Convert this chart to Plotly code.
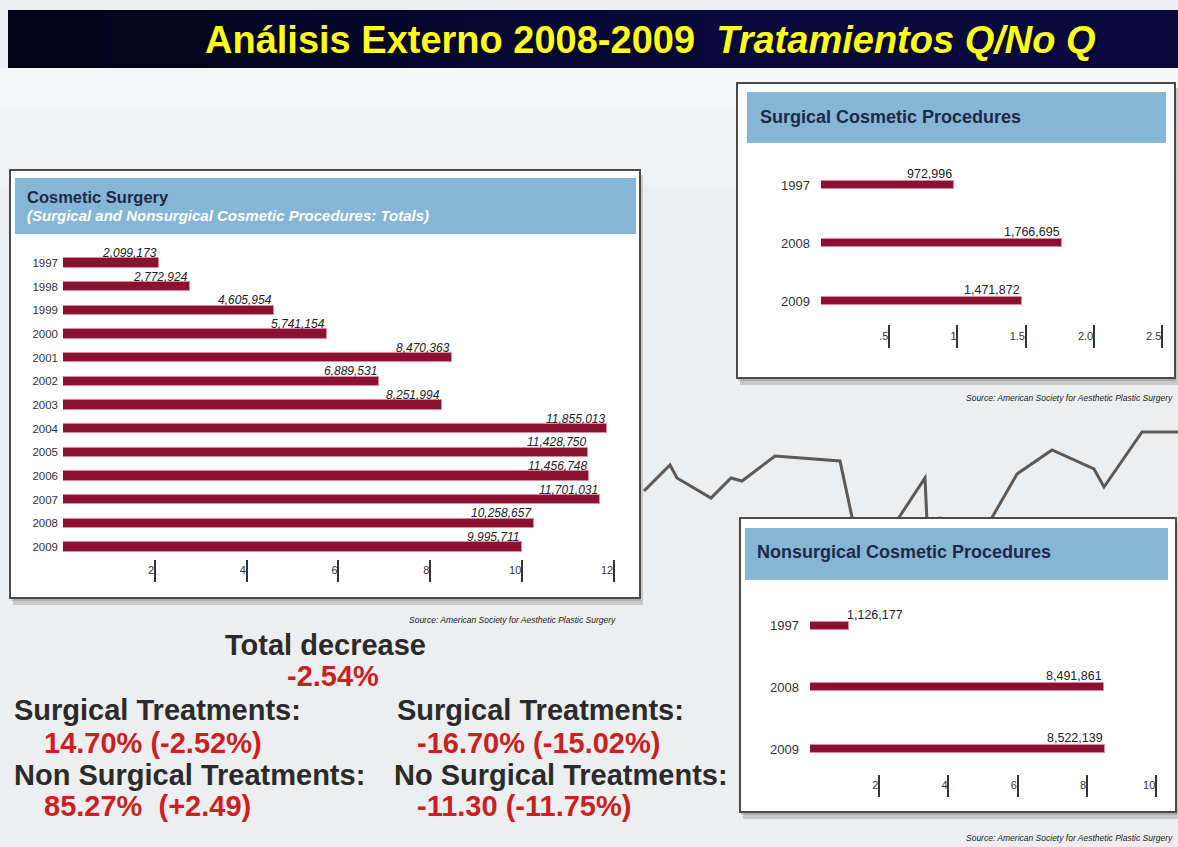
import plotly.graph_objects as go

W, H = 1178, 847

# ---------------- data ----------------
years_total = ["1997", "1998", "1999", "2000", "2001", "2002", "2003",
               "2004", "2005", "2006", "2007", "2008", "2009"]
totals = [2099173, 2772924, 4605954, 5741154, 8470363, 6889531, 8251994,
          11855013, 11428750, 11456748, 11701031, 10258657, 9995711]

years_sub = ["1997", "2008", "2009"]
surgical = [972996, 1766695, 1471872]
nonsurgical = [1126177, 8491861, 8522139]

ticks_total = [2, 4, 6, 8, 10, 12]
ticks_total_text = ["2", "4", "6", "8", "10", "12"]
ticks_surg = [0.5, 1.0, 1.5, 2.0, 2.5]
ticks_surg_text = [".5", "1", "1.5", "2.0", "2.5"]
ticks_non = [2, 4, 6, 8, 10]
ticks_non_text = ["2", "4", "6", "8", "10"]

title_main = "Análisis Externo 2008-2009  <i>Tratamientos Q/No Q</i>"
source_txt = "Source: American Society for Aesthetic Plastic Surgery"

# ---------------- style ----------------
BAR = "#8c1030"
BAR_EDGE = "#d98aa0"
HEAD = "#86b6d6"
NAVY = "#1d2a48"
TXT = "#2b2b2b"
RED = "#cc1f1f"
FONT = "Liberation Sans, Arial, sans-serif"


def X(px):
    return px / W


def Y(py):
    return 1 - py / H


fig = go.Figure()

# ---------------- bars ----------------
fig.add_trace(go.Bar(
    x=[v / 1e6 for v in totals], y=list(range(len(totals))), orientation="h",
    width=0.4, marker=dict(color=BAR, line=dict(color=BAR_EDGE, width=1)),
    xaxis="x", yaxis="y", hoverinfo="skip", showlegend=False))
fig.add_trace(go.Bar(
    x=[v / 1e6 for v in surgical], y=list(range(len(surgical))), orientation="h",
    width=0.13, marker=dict(color=BAR, line=dict(color=BAR_EDGE, width=1)),
    xaxis="x2", yaxis="y2", hoverinfo="skip", showlegend=False))
fig.add_trace(go.Bar(
    x=[v / 1e6 for v in nonsurgical], y=list(range(len(nonsurgical))), orientation="h",
    width=0.13, marker=dict(color=BAR, line=dict(color=BAR_EDGE, width=1)),
    xaxis="x3", yaxis="y3", hoverinfo="skip", showlegend=False))

# ---------------- axes ----------------
common_x = dict(showgrid=False, zeroline=False, showline=False, ticks="inside",
                tickwidth=1.6, tickcolor="#333", ticklabelposition="inside left",
                fixedrange=True)
common_y = dict(showgrid=False, zeroline=False, showline=False, ticks="",
                fixedrange=True)

layout_axes = dict(
    xaxis=dict(domain=[X(63), X(630)], range=[0, 12.35], anchor="y",
               tickvals=ticks_total, ticktext=ticks_total_text, ticklen=22,
               tickfont=dict(family=FONT, size=11, color="#333"), **common_x),
    yaxis=dict(domain=[Y(582), Y(245)], range=[13.48, -0.76], anchor="x",
               tickvals=list(range(len(years_total))), ticktext=years_total,
               tickfont=dict(family=FONT, size=11.5, color="#333"),
               ticklabelstandoff=4, **common_y),
    xaxis2=dict(domain=[X(821), X(1170)], range=[0, 2.557], anchor="y2",
                tickvals=ticks_surg, ticktext=ticks_surg_text, ticklen=23,
                tickfont=dict(family=FONT, size=11, color="#333"), **common_x),
    yaxis2=dict(domain=[Y(348), Y(155)], range=[2.81, -0.52], anchor="x2",
                tickvals=list(range(len(years_sub))), ticktext=years_sub,
                tickfont=dict(family=FONT, size=13, color="#333"),
                ticklabelstandoff=10, **common_y),
    xaxis3=dict(domain=[X(810), X(1170)], range=[0, 10.4], anchor="y3",
                tickvals=ticks_non, ticktext=ticks_non_text, ticklen=22,
                tickfont=dict(family=FONT, size=11, color="#333"), **common_x),
    yaxis3=dict(domain=[Y(797), Y(595)], range=[2.78, -0.5], anchor="x3",
                tickvals=list(range(len(years_sub))), ticktext=years_sub,
                tickfont=dict(family=FONT, size=13, color="#333"),
                ticklabelstandoff=10, **common_y),
)

# ---------------- value labels ----------------
ann = []
for i, v in enumerate(totals):
    ann.append(dict(x=v / 1e6, y=i, xref="x", yref="y", text=f"<i>{v:,}</i>",
                    showarrow=False, xanchor="right", yanchor="bottom", yshift=1,
                    font=dict(family=FONT, size=12, color="#222")))
for i, v in enumerate(surgical):
    ann.append(dict(x=v / 1e6, y=i, xref="x2", yref="y2", text=f"{v:,}",
                    showarrow=False, xanchor="right", yanchor="bottom", yshift=2,
                    font=dict(family=FONT, size=12.5, color="#222")))
for i, v in enumerate(nonsurgical):
    small = v / 1e6 < 2
    ann.append(dict(x=v / 1e6, y=i, xref="x3", yref="y3", text=f"{v:,}",
                    showarrow=False, xanchor="left" if small else "right",
                    yanchor="bottom", yshift=2, xshift=-4 if small else 0,
                    font=dict(family=FONT, size=12.5, color="#222")))

# ---------------- panel chrome ----------------
shapes = []


def rect(x0, y0, x1, y1, fill, line=None, lw=0, opacity=1.0):
    return dict(type="rect", xref="paper", yref="paper",
                x0=X(x0), x1=X(x1), y0=Y(y1), y1=Y(y0),
                fillcolor=fill, opacity=opacity,
                line=dict(color=line or fill, width=lw), layer="below")


# light, fading band under the title
for k in range(6):
    shapes.append(rect(0, 68 + k * 20, 1178, 88 + k * 20, "#ffffff",
                       opacity=0.55 - k * 0.08))

# decorative stock-chart line of the slide background
bg_deco = [(644, 491), (670, 465), (677, 478), (711, 498), (731, 478), (742, 481),
           (775, 456), (840, 461), (855, 531), (890, 531), (925, 478), (927, 522),
           (940, 518), (986, 528), (1017, 474), (1052, 450), (1094, 469),
           (1104, 487), (1142, 432), (1178, 432)]
path = "M " + " L ".join(f"{X(a):.5f},{Y(b):.5f}" for a, b in bg_deco)
shapes.append(dict(type="path", path=path, xref="paper", yref="paper",
                   line=dict(color="#5a5a5a", width=3), layer="below"))

# title bar: navy with a dark fade toward the left
shapes.append(rect(8, 10, 1178, 68, "#0a0a40"))
n_strips = 14
for k in range(n_strips):
    x0 = 8 + k * 50
    shapes.append(rect(x0, 10, x0 + 50, 68, "#000008",
                       opacity=0.7 * (1 - k / n_strips)))

panels = [
    # frame (x0,y0,x1,y1), header (x0,y0,x1,y1)
    ((10, 170, 640, 598), (15, 178, 636, 234)),
    ((737, 83, 1175, 378), (747, 92, 1166, 143)),
    ((740, 518, 1176, 812), (745, 528, 1168, 580)),
]
for (fx0, fy0, fx1, fy1), (hx0, hy0, hx1, hy1) in panels:
    shapes.append(rect(fx0 + 3, fy0 + 5, fx1 + 3, fy1 + 7, "#9a9a9a", opacity=0.45))
    shapes.append(rect(fx0 + 1, fy0 + 2, fx1 + 1, fy1 + 3, "#808080", opacity=0.35))
    shapes.append(rect(fx0, fy0, fx1, fy1, "#ffffff", line="#4a4a4a", lw=2))
    shapes.append(rect(hx0, hy0, hx1, hy1, HEAD))


# ---------------- texts ----------------
def txt(x, y, text, size, color, anchor="left", family=FONT, **kw):
    return dict(x=X(x), y=Y(y), xref="paper", yref="paper", text=text,
                showarrow=False, xanchor=anchor, yanchor="middle",
                font=dict(family=family, size=size, color=color), **kw)


ann.append(txt(650, 40, f"<b>{title_main}</b>", 38, "#ffff1a", anchor="center"))
ann[-1]["font"]["shadow"] = "2px 2px 1px #000000"

ann.append(txt(25, 197, "<b>Cosmetic Surgery</b>", 16.5, NAVY))
ann.append(txt(25, 216, "<b><i>(Surgical and Nonsurgical Cosmetic Procedures: Totals)</i></b>",
               15, "#ffffff"))
ann.append(txt(758, 117, "<b>Surgical Cosmetic Procedures</b>", 18, NAVY))
ann.append(txt(755, 552, "<b>Nonsurgical Cosmetic Procedures</b>", 18, NAVY))

ann.append(txt(618, 620, f"<i>{source_txt}</i>", 8.5, "#222", anchor="right"))
ann.append(txt(1175, 398, f"<i>{source_txt}</i>", 8.5, "#222", anchor="right"))
ann.append(txt(1175, 838, f"<i>{source_txt}</i>", 8.5, "#222", anchor="right"))

BIG = 29
ann.append(txt(325, 645, "<b>Total decrease</b>", BIG, TXT, anchor="center"))
ann.append(txt(333, 676, "<b>-2.54%</b>", BIG, RED, anchor="center"))
ann.append(txt(12, 710, "<b>Surgical Treatments:</b>", BIG, TXT))
ann.append(txt(42, 743, "<b>14.70% (-2.52%)</b>", BIG, RED))
ann.append(txt(12, 775, "<b>Non Surgical Treatments:</b>", BIG, TXT))
ann.append(txt(42, 806, "<b>85.27%  (+2.49)</b>", BIG, RED))
ann.append(txt(395, 710, "<b>Surgical Treatments:</b>", BIG, TXT))
ann.append(txt(415, 743, "<b>-16.70% (-15.02%)</b>", BIG, RED))
ann.append(txt(392, 775, "<b>No Surgical Treatments:</b>", BIG, TXT))
ann.append(txt(415, 806, "<b>-11.30 (-11.75%)</b>", BIG, RED))

fig.update_layout(
    width=W, height=H, margin=dict(l=0, r=0, t=0, b=0),
    paper_bgcolor="#eceef0", plot_bgcolor="rgba(0,0,0,0)",
    shapes=shapes, annotations=ann, bargap=0, showlegend=False,
    **layout_axes)

fig.write_html("out.html", config={"displayModeBar": False},
               post_script="document.body.style.margin='0';"
                           "document.body.style.overflow='hidden';")
